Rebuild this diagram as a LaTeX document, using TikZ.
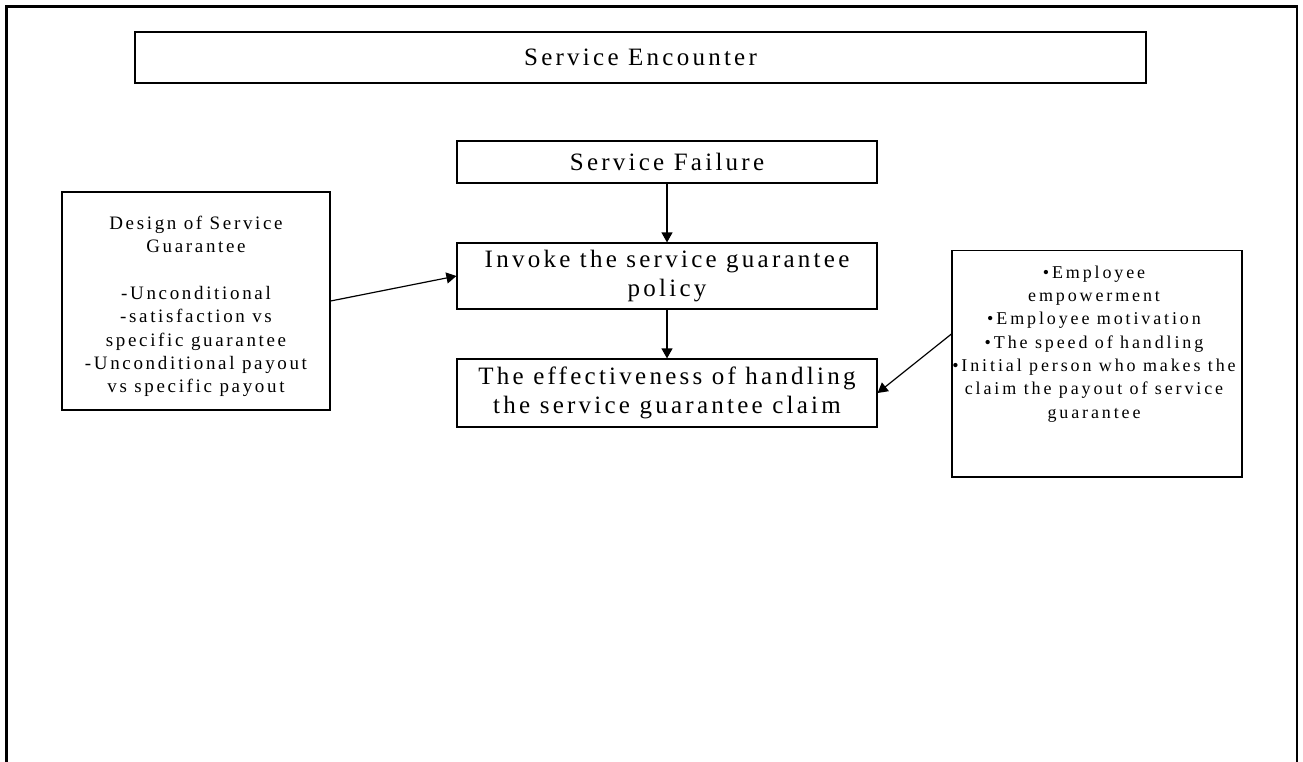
\documentclass[tikz,border=0pt]{standalone}
\usepackage{fontspec}
\setmainfont{Liberation Serif}
\newfontfamily\bigf[LetterSpace=13]{Liberation Serif}
\newfontfamily\midf[LetterSpace=14]{Liberation Serif}
\newfontfamily\smf[LetterSpace=16]{Liberation Serif}
\usetikzlibrary{arrows.meta}
\begin{document}
\begin{tikzpicture}[x=1pt,y=-1pt,
  box/.style={draw, line width=1.2pt, inner sep=0pt},
  conn/.style={line width=1.2pt, -{Triangle[length=10pt,width=11pt]}},
  bigtext/.style={font=\bigf\fontsize{25}{29.5}\selectfont, align=center},
  midtext/.style={font=\midf\fontsize{19}{23.3}\selectfont, align=center, inner sep=0pt},
  smtext/.style={font=\smf\fontsize{18}{23.3}\selectfont, align=center, inner sep=0pt},
  frame/.style={line width=2.2pt}
]
\useasboundingbox (0,0) rectangle (1303,761);
% outer frame (open at the bottom)
\coordinate (fbl) at (6.5,765);
\coordinate (ftl) at (6.5,6.5);
\coordinate (ftr) at (1297,6.5);
\coordinate (fbr) at (1297,765);
\draw[frame] (fbl) -- (ftl) -- (ftr) -- (fbr);

\node[box, bigtext, minimum width=1011pt, minimum height=51pt] (enc) at (640.5,57.5) {Service Encounter};
\node[box, bigtext, minimum width=420pt, minimum height=42pt] (fail) at (667,162) {Service Failure};
\node[box, bigtext, minimum width=420pt, minimum height=66pt] (inv) at (667,276) {Invoke the service guarantee\\policy};
\node[box, bigtext, minimum width=420pt, minimum height=68pt] (eff) at (667,393) {The effectiveness of handling\\the service guarantee claim};

\node[box, minimum width=268pt, minimum height=218pt] (des) at (196,301) {};
\node[midtext, anchor=north] (destext) at (196,216) {Design of Service\\Guarantee\\[23.3pt]-Unconditional\\-satisfaction vs\\specific guarantee\\-Unconditional payout\\vs specific payout};

\node[box, minimum width=290pt, minimum height=226.3pt] (emp) at (1097,363.8) {};
\node[smtext, anchor=north] (emptext) at (1094,265.7) {•Employee\\empowerment\\•Employee motivation\\•The speed of handling\\•Initial person who makes the\\claim the payout of service\\guarantee};

\draw[conn] (fail.south) -- (inv.north);
\draw[conn] (inv.south) -- (eff.north);
\draw[conn] (des.east) -- (inv.west);
\draw[conn] ([yshift=29.8pt]emp.west) -- (eff.east);
\end{tikzpicture}
\end{document}
